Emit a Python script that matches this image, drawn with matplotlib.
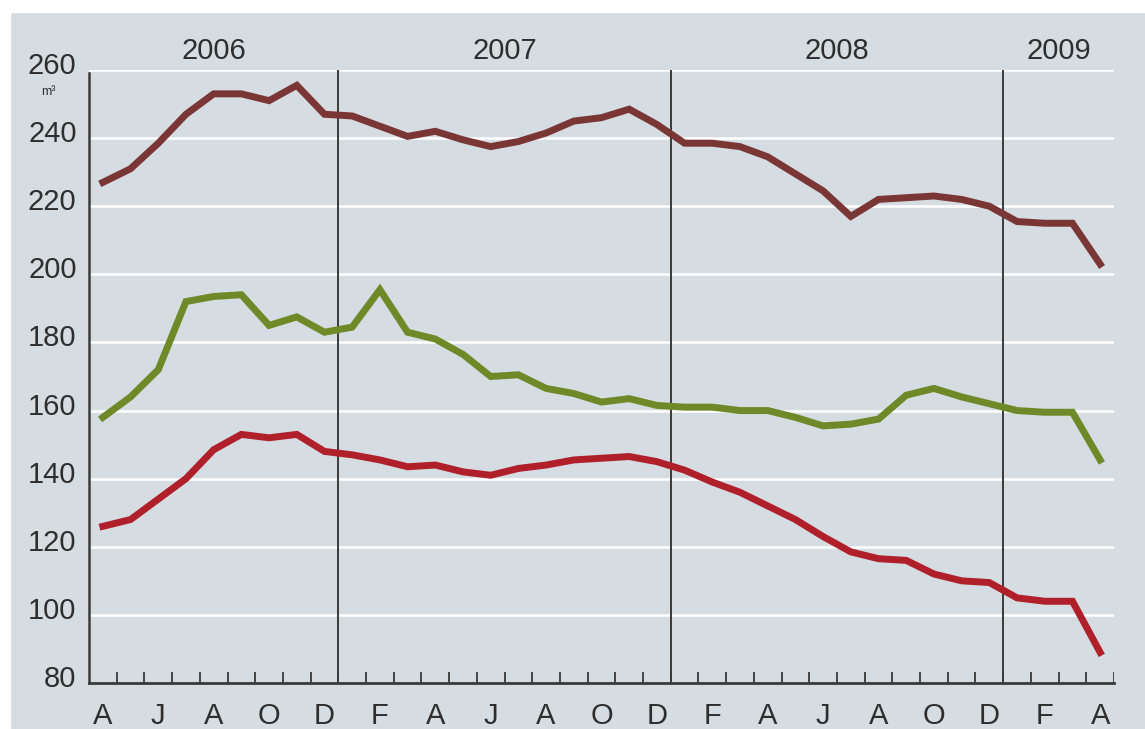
import numpy as np
import matplotlib.pyplot as plt
from matplotlib.patches import Rectangle
import matplotlib.transforms as mtransforms

# ----- Dati (aprile 2006 - aprile 2009, un valore al mese) -----
mesi = ["A", "M", "J", "J", "A", "S", "O", "N", "D",
        "J", "F", "M", "A", "M", "J", "J", "A", "S", "O", "N", "D",
        "J", "F", "M", "A", "M", "J", "J", "A", "S", "O", "N", "D",
        "J", "F", "M", "A"]
anni = ["2006", "2007", "2008", "2009"]
inizio_anni = [0, 9, 21, 33]      # indice del primo mese di ogni anno
fine_anni = [9, 21, 33, 37]

serie_alta = [227, 231, 238.5, 247, 253, 253, 251, 255.5, 247, 246.5,
              243.5, 240.5, 242, 239.5, 237.5, 239, 241.5, 245, 246, 248.5, 244,
              238.5, 238.5, 237.5, 234.5, 229.5, 224.5, 217, 222, 222.5, 223, 222, 220,
              215.5, 215, 215, 203]
serie_verde = [158, 164, 172, 192, 193.5, 194, 185, 187.5, 183, 184.5,
               195.5, 183, 181, 176.5, 170, 170.5, 166.5, 165, 162.5, 163.5, 161.5,
               161, 161, 160, 160, 158, 155.5, 156, 157.5, 164.5, 166.5, 164, 162,
               160, 159.5, 159.5, 145.5]
serie_rossa = [126, 128, 134, 140, 148.5, 153, 152, 153, 148, 147,
               145.5, 143.5, 144, 142, 141, 143, 144, 145.5, 146, 146.5, 145,
               142.5, 139, 136, 132, 128, 123, 118.5, 116.5, 116, 112, 110, 109.5,
               105, 104, 104, 89]

y_ticks = [80, 100, 120, 140, 160, 180, 200, 220, 240, 260]

sfondo = "#d5dce2"
col_testo = "#2e2e2e"


def main():
    plt.rcParams['font.family'] = ['Liberation Sans', 'DejaVu Sans']

    fig = plt.figure(figsize=(11.45, 7.29), dpi=100, facecolor=sfondo)
    ax = fig.add_axes([89 / 1145, 46 / 729, 1025 / 1145, 613 / 729])
    ax.set_facecolor(sfondo)

    x = np.arange(len(mesi))
    ax.set_xlim(-0.5, len(mesi) - 0.5)
    ax.set_ylim(80, 260)

    # griglia orizzontale bianca
    for v in y_ticks[1:]:
        ax.axhline(v, color="white", lw=1.8, zorder=1)

    # linee verticali di inizio anno
    for i in inizio_anni[1:]:
        ax.axvline(i - 0.5, color="#3a3a3a", lw=1.4, zorder=2)

    # tacche dei mesi sull'asse in basso
    for k in range(1, len(mesi) + 1):
        ax.plot([k - 0.5, k - 0.5], [80, 83.3], color="#3a3a3a", lw=1.3,
                zorder=2, solid_capstyle="butt")

    ax.plot(x, serie_alta, color="#7a3535", lw=5, zorder=3, solid_joinstyle="miter")
    ax.plot(x, serie_verde, color="#6e8a28", lw=5, zorder=3, solid_joinstyle="miter")
    ax.plot(x, serie_rossa, color="#b0202a", lw=5, zorder=3, solid_joinstyle="miter")

    for s in ["top", "right"]:
        ax.spines[s].set_visible(False)
    ax.spines["left"].set_color("#3a3a3a")
    ax.spines["left"].set_linewidth(1.8)
    ax.spines["bottom"].set_color("#3a3a3a")
    ax.spines["bottom"].set_linewidth(2.0)
    ax.spines["left"].set_bounds(80, 259)

    ax.set_yticks(y_ticks)
    ax.set_yticklabels([str(v) for v in y_ticks], fontsize=21, color=col_testo)
    ax.tick_params(axis="y", length=0, pad=9)
    offset = mtransforms.ScaledTranslation(0, 7 / 100, fig.dpi_scale_trans)
    for lab in ax.get_yticklabels():
        lab.set_transform(lab.get_transform() + offset)

    ax.set_xticks(x[::2])
    ax.set_xticklabels(mesi[::2], fontsize=21, color=col_testo)
    ax.tick_params(axis="x", length=0, pad=14)

    # etichette degli anni in alto
    for nome, a, b in zip(anni, inizio_anni, fine_anni):
        ax.text((a + b - 1) / 2, 261.5, nome, ha="center", va="bottom",
                fontsize=21, color=col_testo)

    trans_m3 = mtransforms.blended_transform_factory(ax.transAxes, ax.transData)
    ax.text(-0.04, 253.5, "m³", transform=trans_m3, ha="center",
            va="center", fontsize=9, color=col_testo)

    # bordi bianchi della scansione
    fig.patches.append(Rectangle((0, 0), 10 / 1145, 1, transform=fig.transFigure,
                                 color="white", zorder=10))
    fig.patches.append(Rectangle((0, 1 - 12 / 729), 1, 12 / 729,
                                 transform=fig.transFigure, color="white", zorder=10))

    plt.savefig("out.png", dpi=100, facecolor=sfondo)


if __name__ == '__main__':
    main()
